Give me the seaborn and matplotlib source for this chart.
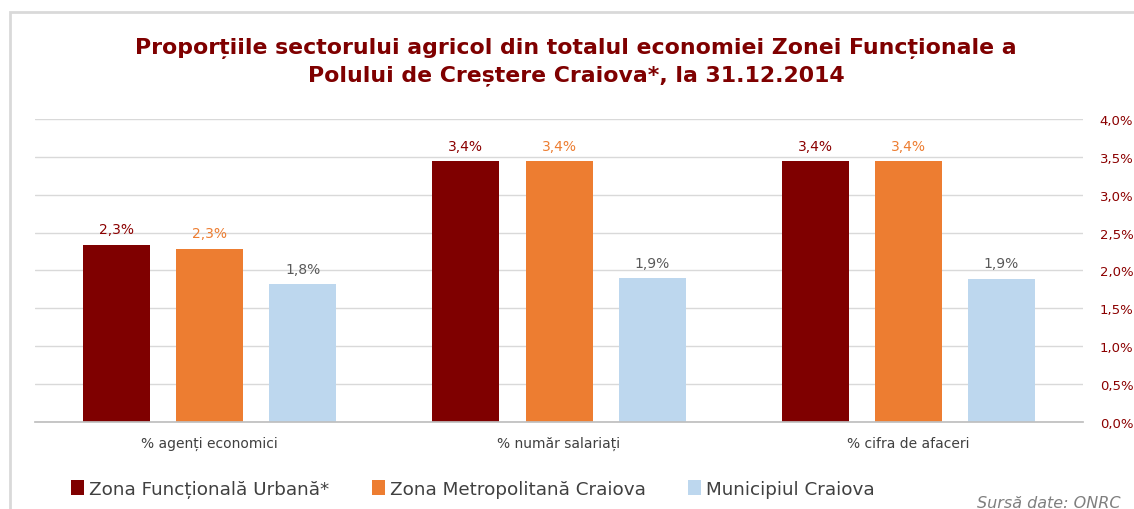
import numpy as np
import pandas as pd
import matplotlib
matplotlib.use("Agg")
import matplotlib.pyplot as plt
import seaborn as sns
from matplotlib.patches import Patch, Rectangle
from matplotlib.ticker import FuncFormatter, MultipleLocator, FixedLocator

# Data
categories = ["% agenți economici", "% număr salariați", "% cifra de afaceri"]
series = ["Zona Funcțională Urbană*", "Zona Metropolitană Craiova", "Municipiul Craiova"]
zfu = [2.34, 3.44, 3.44]
zmc = [2.29, 3.44, 3.44]
mun = [1.82, 1.90, 1.89]

colors = ["#7F0000", "#ED7D31", "#BDD7EE"]
label_colors = ["#8B0000", "#ED7D31", "#595959"]

df = pd.DataFrame({
    "cat": categories * 3,
    "serie": [s for s in series for _ in categories],
    "val": zfu + zmc + mun,
})

sns.set_theme(style="white")
plt.rcParams["font.family"] = ["DejaVu Sans"]

fig = plt.figure(figsize=(11.34, 5.1), dpi=100)
ax = fig.add_axes([0.031, 0.1706, 0.924, 0.5941])

sns.barplot(data=df, x="cat", y="val", hue="serie", palette=colors,
            width=0.8, gap=0.28, ax=ax, legend=False, saturation=1, linewidth=0)

ax.set_ylim(0, 4.0)
ax.set_xlim(-0.5, 2.5)
ax.yaxis.tick_right()
ax.yaxis.set_major_locator(MultipleLocator(0.5))
ax.yaxis.set_major_formatter(FuncFormatter(lambda v, p: f"{v:.1f}%".replace(".", ",")))
ax.tick_params(axis="y", colors="#8B0000", labelsize=9.5, length=0, pad=12)
ax.grid(axis="y", color="#D9D9D9", linewidth=1)
ax.set_axisbelow(True)
for s in ["top", "left", "right"]:
    ax.spines[s].set_visible(False)
ax.spines["bottom"].set_color("#BFBFBF")
ax.set_xlabel("")
ax.set_ylabel("")
ax.tick_params(axis="x", length=0, labelsize=10, colors="#404040", pad=10)
ax.xaxis.set_minor_locator(FixedLocator([-0.5, 0.5, 1.5, 2.5]))
ax.tick_params(axis="x", which="minor", length=5, color="#BFBFBF", width=1)

# data labels
for i, cont in enumerate(ax.containers):
    labels = [f"{v:.1f}%".replace(".", ",") for v in cont.datavalues]
    ax.bar_label(cont, labels=labels, padding=6, color=label_colors[i], fontsize=10)

fig.text(0.508, 0.905, "Proporțiile sectorului agricol din totalul economiei Zonei Funcționale a",
         ha="center", va="center", fontsize=15.8, fontweight="bold", color="#7F0000")
fig.text(0.508, 0.852, "Polului de Creștere Craiova*, la 31.12.2014",
         ha="center", va="center", fontsize=15.8, fontweight="bold", color="#7F0000")

handles = [Patch(facecolor=c, edgecolor="none") for c in colors]
fig.legend(handles, series, loc="center left", bbox_to_anchor=(0.048, 0.04), ncol=3,
           frameon=False, fontsize=13.2, handlelength=0.7, handleheight=0.9,
           handletextpad=0.3, columnspacing=2.3, labelcolor="#404040")

fig.text(0.988, 0.012, "Sursă date: ONRC", ha="right", va="center", fontsize=11.5,
         style="italic", color="#7F7F7F")

# outer frame
fig.patches.append(Rectangle((10 / 1134, -0.2), 1.2, 1.2 - 13 / 510, transform=fig.transFigure,
                             fill=False, edgecolor="#D9D9D9", linewidth=2))

fig.savefig("out.png", dpi=100)
